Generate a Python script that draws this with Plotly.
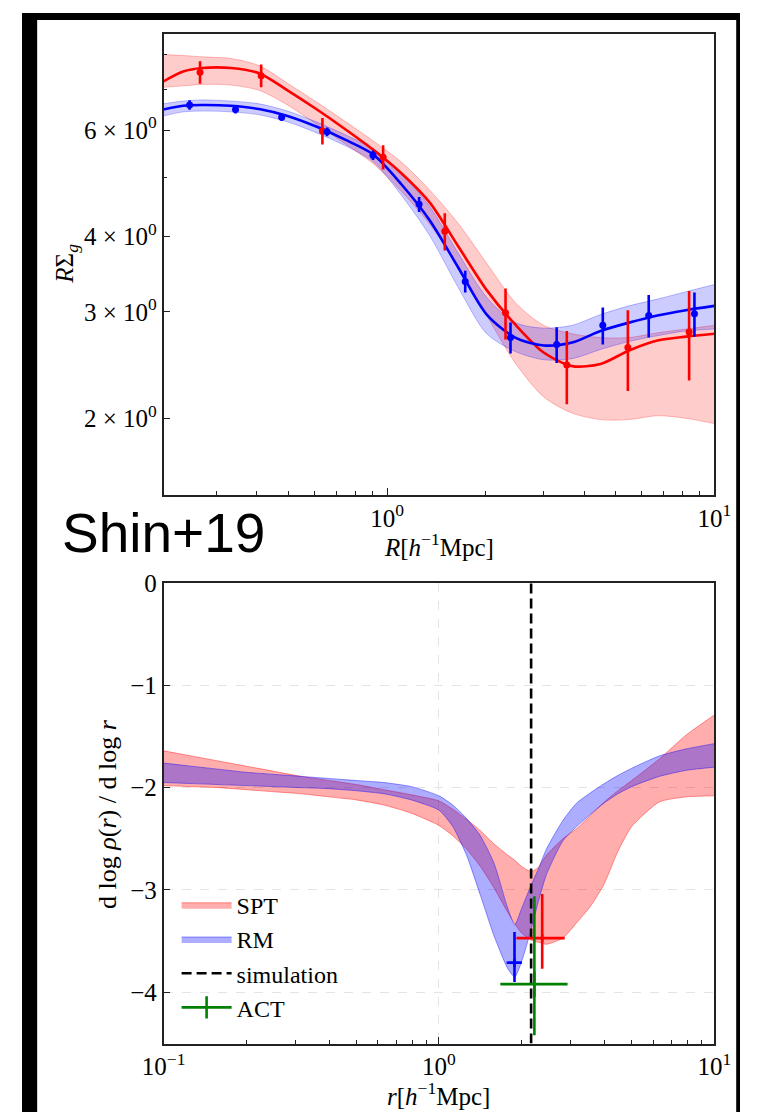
import plotly.graph_objects as go

# ---------------- data: top panel (R Sigma_g profiles) ----------------
R_grid = [0.207, 0.238, 0.272, 0.333, 0.406, 0.496, 0.607, 0.741, 0.905, 1.105, 1.350,
          1.650, 2.015, 2.462, 3.008, 3.675, 4.488, 5.484, 6.700, 8.185, 10.0]
spt_fit = [7.22, 7.50, 7.60, 7.60, 7.45, 6.98, 6.50, 6.03, 5.57, 5.09, 4.55,
           3.85, 3.26, 2.86, 2.57, 2.44, 2.46, 2.59, 2.69, 2.73, 2.76]
spt_hi = [8.00, 7.97, 7.93, 7.88, 7.67, 7.17, 6.68, 6.21, 5.76, 5.31, 4.77,
          4.20, 3.61, 3.11, 2.85, 2.76, 2.72, 2.72, 2.77, 2.81, 2.85]
spt_lo = [7.06, 7.10, 7.14, 7.12, 6.98, 6.60, 6.14, 5.70, 5.28, 4.75, 4.19,
          3.57, 2.96, 2.47, 2.17, 2.04, 1.99, 1.99, 2.02, 2.00, 1.96]
rm_fit = [6.49, 6.58, 6.60, 6.58, 6.50, 6.33, 6.08, 5.79, 5.47, 4.88, 4.25,
          3.55, 2.97, 2.72, 2.64, 2.67, 2.79, 2.88, 2.96, 3.02, 3.07]
rm_hi = [6.63, 6.70, 6.73, 6.70, 6.63, 6.45, 6.19, 5.90, 5.59, 5.09, 4.48,
         3.75, 3.17, 2.88, 2.82, 2.85, 2.97, 3.07, 3.15, 3.24, 3.33]
rm_lo = [6.33, 6.43, 6.45, 6.43, 6.36, 6.19, 5.94, 5.66, 5.32, 4.68, 4.01,
         3.29, 2.76, 2.58, 2.50, 2.51, 2.60, 2.68, 2.74, 2.79, 2.81]

spt_R = [0.268, 0.412, 0.634, 0.972, 1.50, 2.30, 3.54, 5.44, 8.37]
spt_RS = [7.48, 7.38, 5.98, 5.41, 4.08, 2.99, 2.45, 2.62, 2.78]
spt_err = [0.32, 0.32, 0.30, 0.25, 0.29, 0.29, 0.34, 0.40, 0.47]
rm_R = [0.249, 0.344, 0.476, 0.655, 0.905, 1.252, 1.732, 2.382, 3.296, 4.56, 6.30, 8.69]
rm_RS = [6.60, 6.49, 6.30, 5.96, 5.45, 4.52, 3.37, 2.72, 2.65, 2.85, 2.96, 2.98]
rm_err = [0.12, 0.10, 0.09, 0.10, 0.10, 0.13, 0.14, 0.16, 0.18, 0.20, 0.24, 0.25]

# ---------------- data: bottom panel (log slope) ----------------
r_grid = [0.1, 0.1259, 0.1585, 0.1995, 0.2512, 0.3162, 0.3981, 0.5012, 0.631, 0.7943,
          1.0, 1.122, 1.259, 1.413, 1.585, 1.778, 1.884, 1.995, 2.163, 2.291, 2.455,
          2.818, 3.162, 3.548, 3.981, 4.467, 5.012, 6.31, 7.943, 10.0]
spt_slope_hi = [-1.64, -1.69, -1.74, -1.79, -1.84, -1.89, -1.93, -1.97, -2.02, -2.07,
                -2.13, -2.21, -2.31, -2.42, -2.55, -2.66, -2.71, -2.77, -2.82, -2.78, -2.66,
                -2.50, -2.40, -2.27, -2.14, -2.03, -1.93, -1.72, -1.48, -1.29]
spt_slope_lo = [-1.98, -1.99, -2.00, -2.02, -2.04, -2.06, -2.09, -2.12, -2.17, -2.25,
                -2.37, -2.47, -2.60, -2.77, -2.98, -3.22, -3.33, -3.42, -3.49, -3.51, -3.53,
                -3.47, -3.32, -3.16, -2.94, -2.62, -2.38, -2.14, -2.09, -2.08]
rm_slope_hi = [-1.76, -1.79, -1.82, -1.85, -1.87, -1.89, -1.91, -1.93, -1.95, -1.99,
               -2.08, -2.17, -2.30, -2.47, -2.74, -3.18, -3.34, -3.18, -2.95, -2.80, -2.60,
               -2.32, -2.15, -2.05, -1.96, -1.88, -1.81, -1.69, -1.62, -1.57]
rm_slope_lo = [-1.95, -1.96, -1.97, -1.98, -1.99, -2.00, -2.01, -2.03, -2.06, -2.12,
               -2.22, -2.38, -2.66, -3.05, -3.45, -3.77, -3.85, -3.70, -3.38, -3.12, -2.85,
               -2.52, -2.38, -2.26, -2.15, -2.06, -1.99, -1.89, -1.83, -1.80]

r_sim = 2.16
rm_pt = dict(r=1.88, s=-3.71, xm=0.12, xp=0.12, ym=0.19, yp=0.30)
spt_pt = dict(r=2.37, s=-3.47, xm=0.46, xp=0.49, ym=0.30, yp=0.43)
act_pt = dict(r=2.22, s=-3.92, xm=0.55, xp=0.71, ym=0.50, yp=0.86)

# ---------------- figure ----------------
W, H = 757, 1112
SERIF = "Liberation Serif"
FS = 25      # legend / tick labels / titles
AX = "#222222"

fig = go.Figure()


def band(x, lo, hi, fill, edge, xa, ya, name=None, show=False, group=None, sm=0.8):
    fig.add_trace(go.Scatter(x=x, y=lo, mode="lines", xaxis=xa, yaxis=ya,
                             line=dict(color=edge, width=1, shape="spline", smoothing=sm),
                             showlegend=False, legendgroup=group, hoverinfo="skip"))
    fig.add_trace(go.Scatter(x=x, y=hi, mode="lines", xaxis=xa, yaxis=ya, fill="tonexty",
                             fillcolor=fill,
                             line=dict(color=edge, width=1, shape="spline", smoothing=sm),
                             name=name, showlegend=show, legendgroup=group, hoverinfo="skip"))


# top panel
band(R_grid, spt_lo, spt_hi, "rgba(255,0,0,0.20)", "rgba(255,0,0,0.25)", "x", "y")
band(R_grid, rm_lo, rm_hi, "rgba(0,0,255,0.20)", "rgba(0,0,255,0.25)", "x", "y")
fig.add_trace(go.Scatter(x=R_grid, y=spt_fit, mode="lines", xaxis="x", yaxis="y",
                         line=dict(color="red", width=2.6, shape="spline", smoothing=0.8),
                         showlegend=False))
fig.add_trace(go.Scatter(x=R_grid, y=rm_fit, mode="lines", xaxis="x", yaxis="y",
                         line=dict(color="blue", width=2.6, shape="spline", smoothing=0.8),
                         showlegend=False))
fig.add_trace(go.Scatter(x=spt_R, y=spt_RS, mode="markers", xaxis="x", yaxis="y",
                         marker=dict(color="red", size=7),
                         error_y=dict(type="data", array=spt_err, color="red", thickness=2.6, width=0),
                         showlegend=False))
fig.add_trace(go.Scatter(x=rm_R, y=rm_RS, mode="markers", xaxis="x", yaxis="y",
                         marker=dict(color="blue", size=7),
                         error_y=dict(type="data", array=rm_err, color="blue", thickness=2.6, width=0),
                         showlegend=False))

# bottom panel
band(r_grid, spt_slope_lo, spt_slope_hi, "rgba(255,0,0,0.32)", "rgba(255,0,0,0.40)", "x2", "y2",
     name="SPT", show=True, group="spt", sm=0.6)
band(r_grid, rm_slope_lo, rm_slope_hi, "rgba(0,0,255,0.32)", "rgba(0,0,255,0.40)", "x2", "y2",
     name="RM", show=True, group="rm", sm=0.6)
fig.add_trace(go.Scatter(x=[r_sim, r_sim], y=[-4.5, 0], mode="lines", xaxis="x2", yaxis="y2",
                         line=dict(color="black", width=2.6, dash="10px,5px"),
                         name="simulation", legendgroup="sim"))


def cross(p, color, name=None, show=False):
    fig.add_trace(go.Scatter(
        x=[p["r"]], y=[p["s"]], xaxis="x2", yaxis="y2",
        mode="lines+markers" if show else "markers",
        marker=dict(symbol="line-ns", size=18 if show else 0, color=color,
                    line=dict(color=color, width=2.6)),
        line=dict(color=color, width=2.6),
        error_x=dict(type="data", symmetric=False, array=[p["xp"]], arrayminus=[p["xm"]],
                     color=color, thickness=2.6, width=0),
        error_y=dict(type="data", symmetric=False, array=[p["yp"]], arrayminus=[p["ym"]],
                     color=color, thickness=2.6, width=0),
        name=name, showlegend=show, legendgroup=name))


cross(rm_pt, "blue")
cross(spt_pt, "red")
cross(act_pt, "green", name="ACT", show=True)

tickfont = dict(family=SERIF, size=FS, color="black")
common = dict(showline=True, linecolor=AX, linewidth=1.5, mirror=True, ticks="inside",
              ticklen=7, tickwidth=1.2, tickcolor=AX, zeroline=False, tickfont=tickfont)

xdom = [149.3 / W, 730 / W]
fig.update_layout(
    width=W, height=H, margin=dict(l=0, r=0, t=0, b=0),
    paper_bgcolor="white", plot_bgcolor="white",
    xaxis=dict(type="log", range=[-0.6832, 1], domain=xdom, anchor="y",
               tickvals=[1, 10], ticktext=["10<sup>0</sup>", "10<sup>1</sup>"],
               minor=dict(ticks="inside", ticklen=4, tickcolor=AX, tickmode="array",
                          tickvals=[0.3, 0.4, 0.5, 0.6, 0.7, 0.8, 0.9, 2, 3, 4, 5, 6, 7, 8, 9],
                          showgrid=False),
               showgrid=False, **common),
    yaxis=dict(type="log", range=[0.1741, 0.9375], domain=[1 - 487.7 / H, 1 - 21 / H], anchor="x",
               tickvals=[2, 3, 4, 6],
               ticktext=["2 × 10<sup>0</sup>", "3 × 10<sup>0</sup>", "4 × 10<sup>0</sup>",
                         "6 × 10<sup>0</sup>"],
               minor=dict(ticks="inside", ticklen=4, tickcolor=AX, tickmode="array",
                          tickvals=[5, 7, 8, 9], showgrid=False),
               showgrid=False, **common),
    xaxis2=dict(type="log", range=[-1, 1], domain=xdom, anchor="y2",
                tickvals=[0.1, 1, 10],
                ticktext=["10<sup>−1</sup>", "10<sup>0</sup>", "10<sup>1</sup>"],
                minor=dict(ticks="inside", ticklen=4, tickcolor=AX, tickmode="array",
                           tickvals=[0.2, 0.3, 0.4, 0.5, 0.6, 0.7, 0.8, 0.9,
                                     2, 3, 4, 5, 6, 7, 8, 9], showgrid=False),
                showgrid=True, gridcolor="#e4e4e4", griddash="dash", gridwidth=1, **common),
    yaxis2=dict(range=[-4.5, 0], domain=[1 - 1042.7 / H, 1 - 576.7 / H], anchor="x2",
                tickvals=[0, -1, -2, -3, -4], ticktext=["0", "−1", "−2", "−3", "−4"],
                showgrid=True, gridcolor="#e4e4e4", griddash="dash", gridwidth=1, **common),
    legend=dict(x=163 / W, y=1 - 880 / H, xanchor="left", yanchor="top",
                bgcolor="rgba(0,0,0,0)", font=dict(family=SERIF, size=24, color="black"),
                itemwidth=50, tracegroupgap=0),
    showlegend=True,
)

ann = [
    dict(text="Shin+19", x=40 / W, y=1 - 526 / H, xanchor="left", yanchor="middle",
         font=dict(family="Liberation Sans", size=55, color="black")),
    dict(text="<i>R</i>Σ<sub><i>g</i></sub>", x=46 / W, y=1 - 254 / H, textangle=-90,
         xanchor="center", yanchor="middle", font=dict(family=SERIF, size=FS, color="black")),
    dict(text="<i>R</i>[<i>h</i><sup>−1</sup>Mpc]", x=439.6 / W, y=1 - 538 / H,
         xanchor="center", yanchor="middle", font=dict(family=SERIF, size=FS, color="black")),
    dict(text="d log <i>ρ</i>(<i>r</i>) / d log <i>r</i>", x=90 / W, y=1 - 810 / H, textangle=-90,
         xanchor="center", yanchor="middle", font=dict(family=SERIF, size=26, color="black")),
    dict(text="<i>r</i>[<i>h</i><sup>−1</sup>Mpc]", x=439.6 / W, y=1 - 1094 / H,
         xanchor="center", yanchor="middle", font=dict(family=SERIF, size=FS, color="black")),
]
for a in ann:
    a.update(xref="paper", yref="paper", showarrow=False)
fig.update_layout(annotations=ann)

# black frame of the original screenshot
shapes = [
    dict(type="rect", xref="paper", yref="paper", x0=0, x1=16 / W, y0=0, y1=1),
    dict(type="rect", xref="paper", yref="paper", x0=0, x1=1, y0=1 - 7 / H, y1=1),
    dict(type="rect", xref="paper", yref="paper", x0=753 / W, x1=1, y0=0, y1=1),
]
for s in shapes:
    s.update(fillcolor="black", line=dict(width=0), layer="above")
fig.update_layout(shapes=shapes)

fig.write_html("out.html",
               post_script="document.body.style.margin='0px';"
                           "document.body.style.overflow='hidden';")
